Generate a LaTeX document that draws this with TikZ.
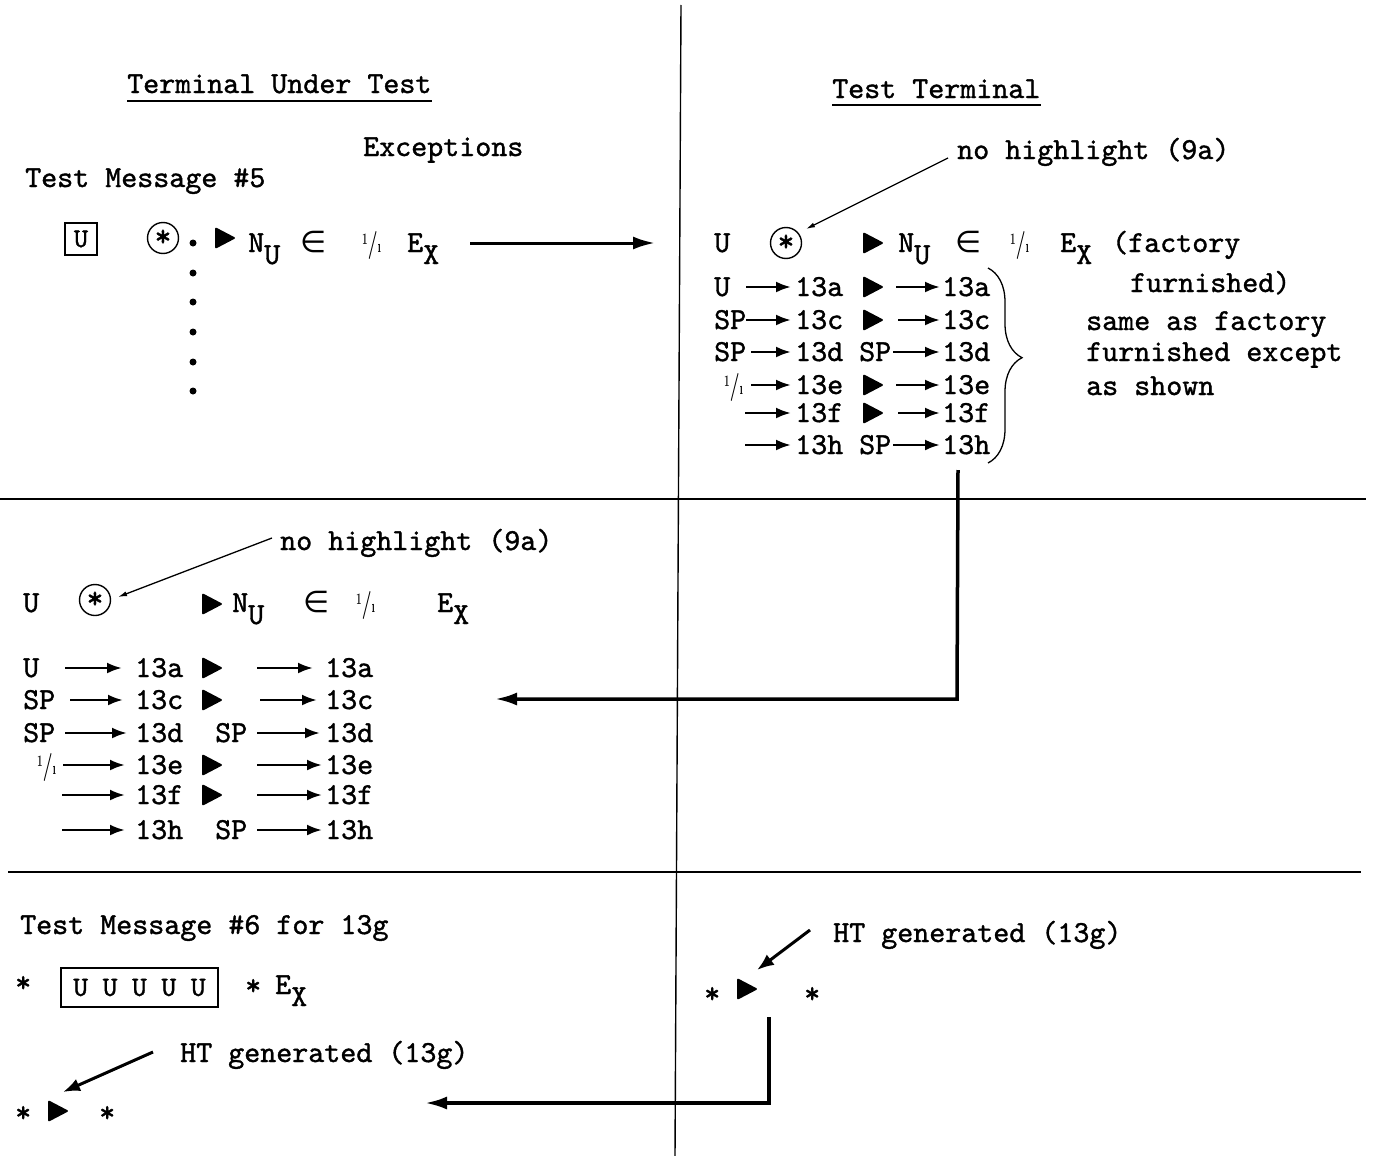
\documentclass[tikz,border=0pt]{standalone}
\usepackage{fontspec}
\usepackage{graphicx}
\usetikzlibrary{arrows.meta,decorations.pathreplacing}
\newfontfamily\tw{lmmono10-regular.otf}[FakeBold=1.2]
\newfontfamily\dv{DejaVu Sans}
\newcommand\oneone{{\rmfamily\bfseries\scalebox{0.62}[1]{\raisebox{8pt}{\fontsize{16}{16}\selectfont 1}{\fontsize{28}{28}\selectfont/}\raisebox{0pt}{\fontsize{18}{18}\selectfont\i}}}}
\newcommand\elem{{\dv\fontsize{30}{30}\selectfont ∈}}
\newcommand\subl[2]{#1\raisebox{-12pt}{#2}}
\begin{document}
\begin{tikzpicture}[x=1pt,y=-1pt,
 txt/.style={anchor=base west, inner sep=0pt, font=\tw\fontsize{30.5}{36}\selectfont},
 gridline/.style={line width=1.8pt},
 vline/.style={line width=1.4pt},
 conn/.style={line width=3.5pt, -{Latex[length=22pt,width=13pt]}},
 tarrow/.style={line width=2.6pt, -{Latex[length=15pt,width=11pt]}},
 leader/.style={line width=1.3pt, -{Latex[length=9pt,width=5pt]}},
 htarrow/.style={line width=3pt, -{Latex[length=17pt,width=13pt]}},
 cstar/.style={circle, draw, line width=1.4pt, minimum size=31pt, inner sep=0pt, font=\tw\fontsize{32}{32}\selectfont},
 ubox/.style={draw, line width=1.5pt, inner sep=0pt, font=\tw\fontsize{28}{30}\selectfont},
 tri/.pic={\fill[rounded corners=2pt] (-10,-11) -- (11,0) -- (-10,11) -- cycle;},
 dotmark/.style={circle, fill, inner sep=0pt, minimum size=7pt}
]
\useasboundingbox (0,0) rectangle (1373,1156);
% grid
\coordinate (vt) at (681,5);
\coordinate (vb) at (675,1156);
\draw[vline] (vt) -- (vb);
\coordinate (h1a) at (0,499);
\coordinate (h1b) at (1366,499);
\draw[gridline] (h1a) -- (h1b);
\coordinate (h2a) at (8,872);
\coordinate (h2b) at (1361,872);
\draw[gridline] (h2a) -- (h2b);

% headings
\node[txt] (tut) at (127,93) {Terminal Under Test};
\draw[line width=1.2pt] ([yshift=-8pt]tut.base west) -- ([yshift=-8pt]tut.base east);
\node[txt] (tt) at (832,98) {Test Terminal};
\draw[line width=1.2pt] ([yshift=-7pt]tt.base west) -- ([yshift=-7pt]tt.base east);
\node[txt] (exc) at (363,156) {Exceptions};
\node[txt] (tm5) at (25,187) {Test Message \#5};

% top-left row
\node[ubox, minimum size=32pt, font=\tw\fontsize{27}{28}\selectfont] (bu) at (81,239) {U};
\node[cstar] (cs1) at (163,238) {*};
\foreach \i/\y in {1/243,2/273,3/302,4/332,5/362,6/391}{
  \node[dotmark] (d\i) at (193,\y) {};
}
\pic (t1) at (225,238) {tri};
\node[txt] (nu1) at (248,252) {\subl{N}{U}};
\node[txt] (in1) at (300,252) {\elem};
\node[txt] (oo1) at (362,252) {\oneone};
\node[txt] (ex1) at (407,252) {\subl{E}{X}};
\coordinate (a1s) at (470,243);
\coordinate (a1e) at (655,243);
\draw[conn, line width=3pt] (a1s) -- (a1e);

% top-right
\node[txt] (nhR) at (957,159) {no highlight (9a)};
\coordinate (nhRs) at (948,158);
\coordinate (nhRe) at (806,229);
\draw[leader] (nhRs) -- (nhRe);
\node[txt] (rU) at (714,252) {U};
\node[cstar] (cs2) at (786,243) {*};
\pic (t2) at (873,243) {tri};
\node[txt] (nu2) at (898,252) {\subl{N}{U}};
\node[txt] (in2) at (955,252) {\elem};
\node[txt] (oo2) at (1010,252) {\oneone};
\node[txt] (ex2) at (1060,252) {\subl{E}{X}};
\node[txt] (fac) at (1112,252) {(factory};
\node[txt] (fur) at (1130,292) {furnished)};
\node[txt] (sam1) at (1086,330) {same as factory};
\node[txt] (sam2) at (1086,361) {furnished except};
\node[txt] (sam3) at (1086,395) {as shown};

% right table
\node[txt] (rA1) at (714,296) {U};
\draw[tarrow] (746,287) -- (791,287);
\node[txt] (rN1) at (795,296) {13a};
\pic (rT1) at (873,287) {tri};
\draw[tarrow] (896,287) -- (940,287);
\node[txt] (rM1) at (942,296) {13a};

\node[txt] (rA2) at (714,329) {SP};
\draw[tarrow] (746,320) -- (791,320);
\node[txt] (rN2) at (795,329) {13c};
\pic (rT2) at (873,320) {tri};
\draw[tarrow] (898,320) -- (940,320);
\node[txt] (rM2) at (942,329) {13c};

\node[txt] (rA3) at (714,361) {SP};
\draw[tarrow] (751,352) -- (791,352);
\node[txt] (rN3) at (795,361) {13d};
\node[txt] (rS3) at (859,361) {SP};
\draw[tarrow] (893,352) -- (940,352);
\node[txt] (rM3) at (942,361) {13d};

\node[txt] (rA4) at (724,394) {\oneone};
\draw[tarrow] (751,385) -- (791,385);
\node[txt] (rN4) at (795,394) {13e};
\pic (rT4) at (873,385) {tri};
\draw[tarrow] (896,385) -- (940,385);
\node[txt] (rM4) at (942,394) {13e};

\draw[tarrow] (745,413) -- (791,413);
\node[txt] (rN5) at (795,422) {13f};
\pic (rT5) at (873,413) {tri};
\draw[tarrow] (898,413) -- (940,413);
\node[txt] (rM5) at (942,422) {13f};

\draw[tarrow] (745,445) -- (791,445);
\node[txt] (rN6) at (795,454) {13h};
\node[txt] (rS6) at (859,454) {SP};
\draw[tarrow] (893,445) -- (940,445);
\node[txt] (rM6) at (942,454) {13h};

\coordinate (bra) at (988,268);
\coordinate (brb) at (988,463);
\draw[line width=1.3pt, decorate, decoration={brace, amplitude=34pt, aspect=0.46}] (bra) -- (brb);

\coordinate (rc1) at (958,470);
\coordinate (rc2) at (957,699);
\coordinate (rc3) at (495,699);
\draw[conn] (rc1) -- (rc2) -- (rc3);

% middle
\node[txt] (nhM) at (280,550) {no highlight (9a)};
\coordinate (nhMs) at (272,538);
\coordinate (nhMe) at (118,597);
\draw[leader] (nhMs) -- (nhMe);
\node[txt] (mU) at (23,612) {U};
\node[cstar] (cs3) at (95,600) {*};
\pic (t3) at (212,604) {tri};
\node[txt] (nu3) at (232,612) {\subl{N}{U}};
\node[txt] (in3) at (303,612) {\elem};
\node[txt] (oo3) at (356,612) {\oneone};
\node[txt] (ex3) at (437,612) {\subl{E}{X}};

\node[txt] (mA1) at (23,677) {U};
\draw[tarrow] (65,668) -- (122,668);
\node[txt] (mN1) at (135,677) {13a};
\pic (mT1) at (212,668) {tri};
\draw[tarrow] (257,668) -- (313,668);
\node[txt] (mM1) at (325,677) {13a};

\node[txt] (mA2) at (23,709) {SP};
\draw[tarrow] (70,700) -- (123,700);
\node[txt] (mN2) at (135,709) {13c};
\pic (mT2) at (212,700) {tri};
\draw[tarrow] (260,700) -- (317,700);
\node[txt] (mM2) at (325,709) {13c};

\node[txt] (mA3) at (23,742) {SP};
\draw[tarrow] (65,733) -- (127,733);
\node[txt] (mN3) at (135,742) {13d};
\node[txt] (mS3) at (215,742) {SP};
\draw[tarrow] (257,733) -- (320,733);
\node[txt] (mM3) at (325,742) {13d};

\node[txt] (mA4) at (37,774) {\oneone};
\draw[tarrow] (63,765) -- (125,765);
\node[txt] (mN4) at (135,774) {13e};
\pic (mT4) at (212,765) {tri};
\draw[tarrow] (257,765) -- (322,765);
\node[txt] (mM4) at (325,774) {13e};

\draw[tarrow] (62,795) -- (125,795);
\node[txt] (mN5) at (135,804) {13f};
\pic (mT5) at (212,795) {tri};
\draw[tarrow] (257,795) -- (322,795);
\node[txt] (mM5) at (325,804) {13f};

\draw[tarrow] (62,830) -- (125,830);
\node[txt] (mN6) at (135,839) {13h};
\node[txt] (mS6) at (215,839) {SP};
\draw[tarrow] (257,830) -- (322,830);
\node[txt] (mM6) at (325,839) {13h};

% bottom left
\node[txt] (tm6) at (20,934) {Test Message \#6 for 13g};
\node[txt] (bs1) at (15,992) {*};
\node[ubox, minimum width=157pt, minimum height=39pt] (ubx) at (139.5,987.5) {U U U U U};
\node[txt] (bs2) at (245,995) {*};
\node[txt] (ex4) at (275,994) {\subl{E}{X}};
\node[txt] (htL) at (180,1062) {HT generated (13g)};
\coordinate (htLs) at (153,1052);
\coordinate (htLe) at (63,1092);
\draw[htarrow] (htLs) -- (htLe);
\node[txt] (bs3) at (15,1122) {*};
\pic (t4) at (58,1111) {tri};
\node[txt] (bs4) at (99,1122) {*};
\coordinate (bc1) at (769,1017);
\coordinate (bc2) at (769,1103);
\coordinate (bc3) at (425,1103);
\draw[conn] (bc1) -- (bc2) -- (bc3);

% bottom right
\node[txt] (htR) at (833,942) {HT generated (13g)};
\coordinate (htRs) at (810,930);
\coordinate (htRe) at (757,970);
\draw[htarrow] (htRs) -- (htRe);
\node[txt] (bs5) at (704,1003) {*};
\pic (t5) at (747,989) {tri};
\node[txt] (bs6) at (804,1003) {*};
\end{tikzpicture}
\end{document}
